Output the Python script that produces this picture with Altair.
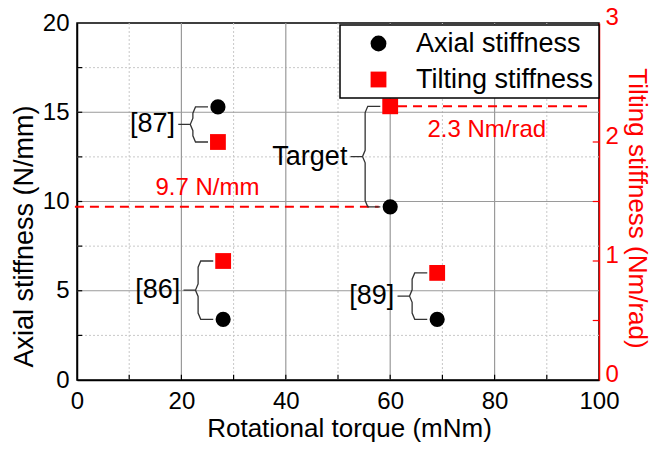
import altair as alt
import pandas as pd

# ---------------- data ----------------
refs = ["[87]", "[86]", "Target", "[89]"]
torque = [27, 28, 60, 69]
axial = [15.3, 3.4, 9.7, 3.4]
tilting = [2.0, 1.0, 2.3, 0.9]

series_names = ["Axial stiffness", "Tilting stiffness"]
series_colors = ["#000000", "#ff0000"]
series_shapes = ["circle", "square"]

x_ticks = [0, 20, 40, 60, 80, 100]
y_ticks = [0, 5, 10, 15, 20]
y2_ticks = [0, 1, 2, 3]
x_major = [20, 40, 60, 80]
x_minor = [10, 30, 50, 70, 90]
y_major = [5, 10, 15]
y_minor = [2.5, 7.5, 12.5, 17.5]
x_inner_ticks = [10, 20, 30, 40, 50, 60, 70, 80, 90]
y_inner_ticks = [2.5, 5, 7.5, 10, 12.5, 15, 17.5]
y2_inner_ticks = [0.5, 1, 1.5, 2, 2.5]

target_axial = 9.7
target_tilting = 2.3
axial_label = "9.7 N/mm"
tilting_label = "2.3 Nm/rad"

FONT = "Liberation Sans"
RATIO = 20 / 3  # left-axis units per right-axis unit

# ---------------- tables ----------------
pts = pd.DataFrame({"ref": refs, "torque": torque, "axial": axial, "tilting": tilting})
pts_ax = pts.assign(series=series_names[0])
pts_ti = pts.assign(series=series_names[1])

# brace paths derived from the point pairs
rows = []
for r, x, a, t in zip(refs, torque, axial, tilting):
    ya, yb = a, t * RATIO
    ym = (ya + yb) / 2
    s = 1 if ya > yb else -1
    xh, xv, xt = x - 1.9, x - 4.8, x - 7.6
    path = [(xh, ya), (xv + 0.5, ya), (xv, ya - 0.35 * s),
            (xv, ym + 0.35 * s), (xv - 0.5, ym), (xt, ym),
            (xv - 0.5, ym), (xv, ym - 0.35 * s),
            (xv, yb + 0.35 * s), (xv + 0.5, yb), (xh, yb)]
    for k, (px, py) in enumerate(path):
        rows.append({"ref": r, "o": k, "bx": px, "by": py})
braces = pd.DataFrame(rows)
brace_labels = pd.DataFrame({"ref": refs,
                             "lx": [x - 8.2 for x in torque],
                             "ly": [(a + t * RATIO) / 2 for a, t in zip(axial, tilting)]})

# ---------------- scales / axes ----------------
xscale = alt.Scale(domain=[0, 100], nice=False, zero=False)
yscale = alt.Scale(domain=[0, 20], nice=False, zero=False)
y2scale = alt.Scale(domain=[0, 3], nice=False, zero=False)

xaxis = alt.Axis(values=x_ticks, title="Rotational torque (mNm)", grid=False, ticks=False,
                 domainColor="black", domainWidth=1.5, labelPadding=9, titlePadding=2,
                 labelFlush=False, labelFontSize=24, titleFontSize=26, titleX=272)
yaxis = alt.Axis(values=y_ticks, title="Axial stiffness (N/mm)", grid=False, ticks=False,
                 domainColor="black", domainWidth=1.5, labelPadding=8, titlePadding=4,
                 labelFontSize=24, titleFontSize=27, titleY=213)
y2axis = alt.Axis(values=y2_ticks, title="Tilting stiffness (Nm/rad)", orient="right",
                  grid=False, ticks=False, domainColor="#ff0000", domainWidth=1.5,
                  labelColor="#ff0000", titleColor="#ff0000", labelPadding=6,
                  labelOffset=-6, titlePadding=5, labelFontSize=24, titleFontSize=26,
                  titleY=185)


def X(f):
    return alt.X(f, type="quantitative", scale=xscale, axis=xaxis)


def YL(f):
    return alt.Y(f, type="quantitative", scale=yscale, axis=yaxis)


def YR(f):
    return alt.Y(f, type="quantitative", scale=y2scale, axis=y2axis)


legend = alt.Legend(orient="none", legendX=263, legendY=2, title=None,
                    fillColor="white", strokeColor="black",
                    padding=5, symbolOffset=20, labelOffset=24, rowPadding=8,
                    labelFontSize=27, labelFont=FONT, symbolSize=250,
                    symbolStrokeWidth=0, labelLimit=400)
color = alt.Color("series:N", scale=alt.Scale(domain=series_names, range=series_colors),
                  legend=legend)
shape = alt.Shape("series:N", scale=alt.Scale(domain=series_names, range=series_shapes),
                  legend=legend)

# ---------------- left-scale layers ----------------
gx_min = alt.Chart(pd.DataFrame({"g": x_minor})).mark_rule(
    color="#c8c8c8", strokeDash=[2, 2], strokeWidth=1).encode(x=X("g"))
gy_min = alt.Chart(pd.DataFrame({"g": y_minor})).mark_rule(
    color="#c8c8c8", strokeDash=[2, 2], strokeWidth=1).encode(y=YL("g"))
gx_maj = alt.Chart(pd.DataFrame({"g": x_major})).mark_rule(
    color="#9a9a9a", strokeWidth=1.2).encode(x=X("g"))
gy_maj = alt.Chart(pd.DataFrame({"g": y_major})).mark_rule(
    color="#9a9a9a", strokeWidth=1.2).encode(y=YL("g"))

ticks_left = alt.Chart(pd.DataFrame({"v": y_inner_ticks, "x0": 0, "x1": 1.0})).mark_rule(
    color="black", strokeWidth=1.2).encode(x=X("x0"), x2="x1", y=YL("v"))
ticks_bottom = alt.Chart(pd.DataFrame({"v": x_inner_ticks, "y0": 0, "y1": 0.3})).mark_rule(
    color="black", strokeWidth=1.2).encode(x=X("v"), y=YL("y0"), y2="y1")

dash_ax = alt.Chart(pd.DataFrame({"x0": [-0.4], "x1": [57.8], "y": [target_axial]})).mark_rule(
    color="#ff0000", strokeDash=[9, 6], strokeWidth=2, clip=False).encode(
    x=X("x0"), x2="x1", y=YL("y"))

brace_lines = alt.Chart(braces).mark_line(color="#333333", strokeWidth=1.3).encode(
    x=X("bx"), y=YL("by"), detail="ref:N", order="o:Q")
brace_text = alt.Chart(brace_labels).mark_text(
    align="right", baseline="middle", font=FONT, fontSize=27, color="black").encode(
    x=X("lx"), y=YL("ly"), text="ref:N")

ax_text = alt.Chart(pd.DataFrame({"x": [25], "y": [10.75], "t": [axial_label]})).mark_text(
    align="center", baseline="middle", font=FONT, fontSize=24, color="#ff0000").encode(
    x=X("x"), y=YL("y"), text="t:N")

circles = alt.Chart(pts_ax).mark_point(filled=True, size=230, opacity=1).encode(
    x=X("torque"), y=YL("axial"), color=color, shape=shape)

left = alt.layer(gx_min, gy_min, gx_maj, gy_maj, ticks_left, ticks_bottom, dash_ax,
                 brace_lines, brace_text, ax_text, circles)

# ---------------- right-scale layers ----------------
dash_ti = alt.Chart(pd.DataFrame({"x0": [61.5], "x1": [98.3], "y": [target_tilting]})).mark_rule(
    color="#ff0000", strokeDash=[9, 6], strokeWidth=2).encode(
    x=X("x0"), x2="x1", y=YR("y"))
ti_text = alt.Chart(pd.DataFrame({"x": [78.5], "y": [2.1], "t": [tilting_label]})).mark_text(
    align="center", baseline="middle", font=FONT, fontSize=24, color="#ff0000").encode(
    x=X("x"), y=YR("y"), text="t:N")
red_ticks = alt.Chart(pd.DataFrame({"v": y2_inner_ticks, "x0": 98.8, "x1": 100})).mark_rule(
    color="#ff0000", strokeWidth=1.2).encode(x=X("x0"), x2="x1", y=YR("v"))
squares = alt.Chart(pts_ti).mark_point(filled=True, size=250, opacity=1).encode(
    x=X("torque"), y=YR("tilting"), color=color, shape=shape)

right = alt.layer(dash_ti, ti_text, red_ticks, squares)

chart = alt.layer(left, right).resolve_scale(y="independent").properties(
    width=522, height=357,
    background="white",
    autosize=alt.AutoSizeParams(type="none"),
    padding={"left": 77, "top": 23, "right": 53, "bottom": 70},
).configure_view(stroke="black", strokeWidth=1.5).configure_axis(
    labelFont=FONT, titleFont=FONT,
    titleFontWeight="normal", labelColor="black", titleColor="black"
).configure_legend(strokeWidth=1.5)

chart.save("out.html", embed_options={"renderer": "svg", "actions": False})
